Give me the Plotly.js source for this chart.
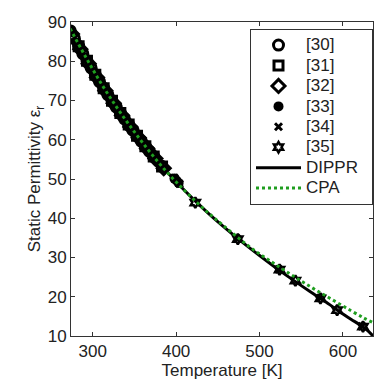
<!DOCTYPE html>
<html>
<head>
<meta charset="utf-8">
<script src="https://cdn.plot.ly/plotly-3.0.1.min.js"></script>
<style>html,body{margin:0;padding:0;background:#fff;}#chart{width:374px;height:381px;}</style>
</head>
<body>
<div id="chart"></div>
<script>
// Reference [30]
const t30 = [273.15,278.15,283.15,288.15,293.15,298.15,303.15,308.15,313.15,318.15,323.15,328.15,333.15,338.15,343.15,348.15,353.15,358.15,363.15,368.15,373.15];
const e30 = [87.74,85.76,83.83,81.95,80.10,78.30,76.55,74.83,73.15,71.51,69.91,68.35,66.82,65.32,63.86,62.43,61.03,59.66,58.32,57.01,55.72];
// Reference [31]
const t31 = [283.15,293.15,303.15,313.15,323.15,333.15,343.15,353.15,363.15,373.15,383.15];
const e31 = [83.83,80.10,76.55,73.15,69.91,66.82,63.86,61.03,58.32,55.72,53.2];
// Reference [32]
const t32 = [275.15,285.15,295.15,305.15,315.15,325.15,335.15,345.15,355.15,365.15,375.15,385.15];
const e32 = [86.94,83.07,79.38,75.85,72.49,69.28,66.21,63.28,60.48,57.79,55.21,52.74];
// Reference [33]
const t33 = [274.0,280.6,285.6,290.6,295.6,300.6,305.6,310.6,315.6,320.6,325.6,330.6,335.6,340.6,345.6,350.6,355.6,360.6,365.6,370.6,375.6,380.6,386.0,398.0,400.5,403.0];
const e33 = [87.4,84.8,82.9,81.0,79.2,77.4,75.7,74.0,72.3,70.7,69.1,67.6,66.1,64.6,63.1,61.7,60.3,59.0,57.7,56.4,55.1,53.8,52.4,50.1,49.6,49.0];
// Reference [34]
const t34 = [398.0,404.0,473.0,523.0,573.0,623.0];
const e34 = [50.3,48.8,34.8,27.0,19.7,12.5];
// Reference [35]
const t35 = [423.0,474.0,524.0,543.0,573.0,593.0,624.0];
const e35 = [44.0,34.7,26.9,24.1,19.6,16.6,12.4];
// DIPPR correlation
const tD = [273,280,290,300,310,320,330,340,350,360,370,380,390,400,420,440,460,480,500,520,540,560,580,600,610,620,630,636];
const eD = [87.9,85.2,81.5,77.8,74.3,71.0,67.8,64.8,61.9,59.1,56.5,54.0,51.6,49.3,45.0,41.0,37.3,33.8,30.5,27.3,24.3,21.4,18.6,15.6,14.2,12.9,11.3,10.0];
// CPA model
const tC = [273,290,310,330,350,370,390,410,430,450,470,490,510,530,550,570,590,610,625,636];
const eC = [88.3,81.7,74.4,67.9,62.0,56.5,51.5,47.1,43.0,39.3,35.8,32.4,29.5,26.7,24.0,21.4,18.9,16.4,14.6,13.4];

const names = ['[30]','[31]','[32]','[33]','[34]','[35]','DIPPR','CPA'];
const FONT = 'Liberation Sans, Arial, sans-serif';
const lg = (s, pad) => '<span style="font-size:17px">' + s + (pad ? '&#8194;' : '') + '</span>';

function pts(x, y, name, symbol, size, lw) {
  return {x: x, y: y, name: lg(name), type: 'scatter', mode: 'markers',
    marker: {symbol: symbol, size: size, color: '#000', line: {color: '#000', width: lw}}};
}

const data = [
  pts(t30, e30, names[0], 'circle-open', 10, 3),
  pts(t31, e31, names[1], 'square-open', 9, 3),
  pts(t32, e32, names[2], 'diamond-open', 10, 3),
  pts(t33, e33, names[3], 'circle', 10, 0),
  pts(t34, e34, names[4], 'x-thin-open', 7, 3),
  pts(t35, e35, names[5], 'hexagram-open', 8, 2.5),
  {x: tD, y: eD, name: lg(names[6], true), type: 'scatter', mode: 'lines', line: {color: '#000', width: 3, shape: 'spline'}},
  {x: tC, y: eC, name: lg(names[7]), type: 'scatter', mode: 'lines', line: {color: '#1f9e1f', width: 3, dash: 'dot', shape: 'spline'}}
];

const axisCommon = {
  showgrid: false, zeroline: false, showline: true, linecolor: '#333', linewidth: 1,
  mirror: 'ticks', ticks: 'inside', ticklen: 4, tickcolor: '#333', tickwidth: 1,
  tickfont: {family: FONT, size: 17, color: '#222'}
};

const layout = {
  width: 374, height: 381,
  margin: {l: 71, r: 1, t: 22, b: 45},
  paper_bgcolor: '#fff', plot_bgcolor: '#fff',
  font: {family: FONT, color: '#222'},
  xaxis: Object.assign({}, axisCommon, {
    range: [274, 636], tickvals: [300,400,500,600],
    title: {text: 'Temperature [K]', font: {family: FONT, size: 17, color: '#222'}, standoff: 3}
  }),
  yaxis: Object.assign({}, axisCommon, {
    range: [10, 90], tickvals: [10,20,30,40,50,60,70,80,90],
    title: {text: 'Static Permittivity ε<sub>r</sub>', font: {family: FONT, size: 17, color: '#222'}, standoff: 2}
  }),
  showlegend: true,
  legend: {
    x: 1, xanchor: 'right', y: 0.978, yanchor: 'top',
    bgcolor: '#fff', bordercolor: '#333', borderwidth: 1,
    font: {family: FONT, size: 13.4, color: '#222'},
    itemwidth: 45, tracegroupgap: 0
  }
};

Plotly.newPlot('chart', data, layout, {displayModeBar: false, staticPlot: true});
</script>
</body>
</html>
